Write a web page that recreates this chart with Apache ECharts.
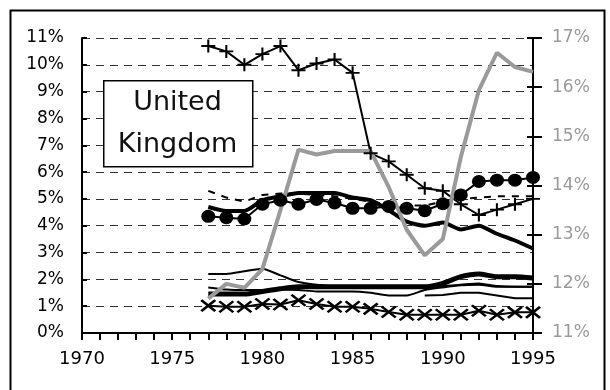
<!DOCTYPE html>
<html>
<head>
<meta charset="utf-8">
<script src="https://cdn.jsdelivr.net/npm/echarts@6/dist/echarts.min.js"></script>
<style>
  html, body { margin: 0; padding: 0; background: #fff; }
  #chart { width: 610px; height: 390px; }
</style>
</head>
<body>
<div id="chart"></div>
<script>
// Years covered by every series
const years = [1977, 1978, 1979, 1980, 1981, 1982, 1983, 1984, 1985, 1986,
               1987, 1988, 1989, 1990, 1991, 1992, 1993, 1994, 1995];

// Left-axis series (percent)
const plusSeries   = [10.7, 10.5, 10.0, 10.4, 10.7, 9.8, 10.05, 10.2, 9.7, 6.7,
                      6.4, 5.9, 5.4, 5.3, 4.8, 4.4, 4.6, 4.8, 5.0];
const dotSeries    = [4.35, 4.3, 4.25, 4.8, 4.95, 4.8, 4.98, 4.85, 4.65, 4.65,
                      4.72, 4.65, 4.56, 4.82, 5.15, 5.65, 5.7, 5.7, 5.8];
const thickSeries  = [4.7, 4.55, 4.55, 4.95, 5.1, 5.22, 5.22, 5.22, 5.05, 4.95,
                      4.58, 4.15, 4.0, 4.12, 3.86, 4.0, 3.7, 3.45, 3.15];
const dashSeries   = [5.3, 5.05, 4.9, 5.15, 5.2, 5.2, 5.15, 5.1, 5.0, 4.9,
                      4.8, 4.75, 4.75, 4.9, 5.0, 5.05, 5.1, 5.1, 5.1];
const lowA         = [2.2, 2.2, 2.3, 2.4, 2.15, 1.9, 1.8, 1.75, 1.75, 1.75,
                      1.72, 1.7, 1.7, 1.75, 1.8, 1.85, 1.75, 1.72, 1.72];
const lowB         = [1.45, 1.45, 1.45, 1.55, 1.65, 1.72, 1.72, 1.72, 1.72, 1.72,
                      1.72, 1.72, 1.72, 1.85, 2.1, 2.2, 2.1, 2.1, 2.05];
const lowC         = [1.7, 1.62, 1.6, 1.6, 1.62, 1.6, 1.55, 1.55, 1.55, 1.5,
                      1.4, 1.4, 1.6, 1.7, 1.78, 1.8, 1.72, 1.72, 1.72];
const lowD         = [null, null, null, null, null, null, null, null, null, null,
                      null, null, 1.4, 1.42, 1.5, 1.5, 1.4, 1.3, 1.3];
const crossSeries  = [1.02, 0.98, 0.98, 1.08, 1.06, 1.22, 1.08, 0.98, 0.98, 0.9,
                      0.78, 0.68, 0.68, 0.68, 0.68, 0.83, 0.68, 0.77, 0.77];

// Right-axis series (percent)
const greySeries   = [11.7, 12.0, 11.92, 12.3, 13.5, 14.73, 14.63, 14.7, 14.7, 14.7,
                      13.97, 13.1, 12.58, 12.91, 14.58, 15.94, 16.7, 16.41, 16.31];

// Axis tick settings
const xMin = 1970, xMax = 1995, xStep = 5;
const leftMin = 0, leftMax = 11;
const rightMin = 11, rightMax = 17;

const pairs = vals => years.map((y, i) => [y, vals[i]]);

const AXIS_FONT = 'DejaVu Sans';
const plusPath  = 'path://M0,5 L10,5 M5,0 L5,10';
const crossPath = 'path://M0,0 L10,10 M10,0 L0,10';

const chart = echarts.init(document.getElementById('chart'), null, { renderer: 'canvas' });

const option = {
  animation: false,
  backgroundColor: '#fff',
  grid: { left: 82, right: 77, top: 38, bottom: 57 },
  xAxis: {
    type: 'value', min: xMin, max: xMax, interval: xStep,
    axisLine: { lineStyle: { color: '#000', width: 2 } },
    axisTick: { inside: false, length: 7, lineStyle: { color: '#000', width: 2 } },
    minorTick: { show: true, splitNumber: 5, length: 7, lineStyle: { color: '#000', width: 2 } },
    axisLabel: { color: '#000', fontFamily: AXIS_FONT, fontSize: 18, margin: 17,
                 formatter: v => String(v) },
    splitLine: { show: false }
  },
  yAxis: [
    {
      type: 'value', position: 'left', min: leftMin, max: leftMax, interval: 1,
      axisLine: { show: true, lineStyle: { color: '#000', width: 2 } },
      axisTick: { show: true, inside: true, length: 5, lineStyle: { color: '#000', width: 2 } },
      axisLabel: { color: '#000', fontFamily: AXIS_FONT, fontSize: 17, margin: 18, formatter: '{value}%' },
      splitLine: { show: true, lineStyle: { color: '#333', width: 1, type: [8, 6] } }
    },
    {
      type: 'value', position: 'right', min: rightMin, max: rightMax, interval: 1,
      axisLine: { show: true, lineStyle: { color: '#000', width: 2 } },
      axisTick: { show: true, inside: true, length: 6, lineStyle: { color: '#000', width: 2 } },
      axisLabel: { color: '#9a9a9a', fontFamily: AXIS_FONT, fontSize: 17, margin: 19, formatter: '{value}%' },
      splitLine: { show: false }
    },
    {
      type: 'value', position: 'right', min: rightMin, max: rightMax, interval: 1,
      axisLine: { show: false },
      axisTick: { show: true, inside: false, length: 9, lineStyle: { color: '#000', width: 2 } },
      axisLabel: { show: false },
      splitLine: { show: false }
    }
  ],
  series: [
    {
      name: 'low-d', type: 'line', yAxisIndex: 0, data: pairs(lowD),
      showSymbol: false, symbol: 'none',
      lineStyle: { color: '#000', width: 2 }
    },
    {
      name: 'low-c', type: 'line', yAxisIndex: 0, data: pairs(lowC),
      showSymbol: false, symbol: 'none', smooth: 0.2,
      lineStyle: { color: '#000', width: 2 }
    },
    {
      name: 'low-a', type: 'line', yAxisIndex: 0, data: pairs(lowA),
      showSymbol: false, symbol: 'none', smooth: 0.2,
      lineStyle: { color: '#000', width: 2 }
    },
    {
      name: 'low-b', type: 'line', yAxisIndex: 0, data: pairs(lowB),
      showSymbol: false, symbol: 'none', smooth: 0.2,
      lineStyle: { color: '#000', width: 5 }
    },
    {
      name: 'cross', type: 'line', yAxisIndex: 0, data: pairs(crossSeries),
      symbol: crossPath, symbolSize: [14, 11],
      itemStyle: { color: 'none', borderColor: '#000', borderWidth: 2.5 },
      lineStyle: { color: '#000', width: 2 }
    },
    {
      name: 'dashed', type: 'line', yAxisIndex: 0, data: pairs(dashSeries),
      showSymbol: false, symbol: 'none',
      lineStyle: { color: '#000', width: 2, type: [7, 7] }
    },
    {
      name: 'thick', type: 'line', yAxisIndex: 0, data: pairs(thickSeries),
      showSymbol: false, symbol: 'none', smooth: 0.2,
      lineStyle: { color: '#000', width: 4 }
    },
    {
      name: 'dots', type: 'line', yAxisIndex: 0, data: pairs(dotSeries),
      symbol: 'circle', symbolSize: [14, 13],
      itemStyle: { color: '#000' },
      lineStyle: { color: '#000', width: 2 }
    },
    {
      name: 'plus', type: 'line', yAxisIndex: 0, data: pairs(plusSeries),
      symbol: plusPath, symbolSize: [14, 13],
      itemStyle: { color: 'none', borderColor: '#000', borderWidth: 2 },
      lineStyle: { color: '#000', width: 2 }
    },
    {
      name: 'grey', type: 'line', yAxisIndex: 1, data: pairs(greySeries),
      showSymbol: false, symbol: 'none',
      lineStyle: { color: '#9a9a9a', width: 4 }
    }
  ],
  graphic: [
    {
      type: 'rect', left: 8, top: 8, silent: true, z: -10,
      shape: { x: 0, y: 0, width: 594, height: 400 },
      style: { fill: 'none', stroke: '#000', lineWidth: 2 }
    },
    {
      type: 'rect', left: 103, top: 80, z: 100, silent: true,
      shape: { x: 0, y: 0, width: 149, height: 86 },
      style: { fill: '#fff', stroke: '#000', lineWidth: 1.5 }
    },
    {
      type: 'text', x: 177.5, y: 103, z: 101, silent: true,
      style: { text: 'United', font: '27px "DejaVu Sans"', fill: '#111',
               align: 'center', verticalAlign: 'middle' }
    },
    {
      type: 'text', x: 177.5, y: 145, z: 101, silent: true,
      style: { text: 'Kingdom', font: '27px "DejaVu Sans"', fill: '#111',
               align: 'center', verticalAlign: 'middle' }
    }
  ]
};

chart.setOption(option);
</script>
</body>
</html>
